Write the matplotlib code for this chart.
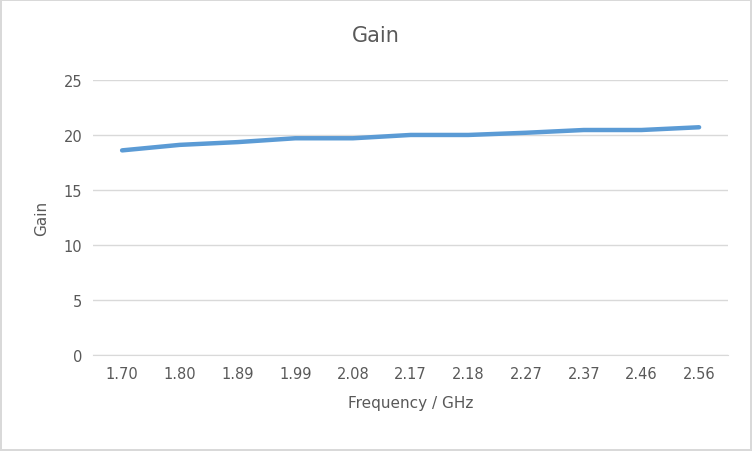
import matplotlib
matplotlib.use("Agg")
import matplotlib.pyplot as plt

categories = ["1.70","1.80","1.89","1.99","2.08","2.17","2.18","2.27","2.37","2.46","2.56"]
gain = [18.6, 19.1, 19.35, 19.7, 19.7, 20.0, 20.0, 20.2, 20.45, 20.45, 20.7]
yticks = [0, 5, 10, 15, 20, 25]

plt.rcParams["font.family"] = "DejaVu Sans"
fig = plt.figure(figsize=(7.52, 4.52), dpi=100)
fig.patch.set_edgecolor("#d9d9d9"); fig.patch.set_linewidth(1.5)
ax = fig.add_axes([0.124, 0.212, 0.844, 0.609])
x = list(range(len(categories)))
ax.plot(x, gain, color="#5b9bd5", lw=3.2, solid_capstyle="round")
ax.set_xlim(-0.5, len(categories) - 0.5)
ax.set_ylim(0, 25)
ax.set_yticks(yticks)
ax.set_xticks(x)
ax.set_xticklabels(categories)
ax.grid(axis="y", color="#d9d9d9", lw=1)
ax.set_axisbelow(True)
for s in ["top", "right", "left"]:
    ax.spines[s].set_visible(False)
ax.spines["bottom"].set_color("#d9d9d9")
ax.tick_params(length=0, colors="#595959", labelsize=10.5, pad=8)
ax.set_xlabel("Frequency / GHz", color="#595959", fontsize=11, labelpad=10)
ax.set_ylabel("Gain", color="#595959", fontsize=11, labelpad=10)
fig.text(0.5, 0.92, "Gain", ha="center", va="center", fontsize=15, color="#595959")
fig.savefig("out.png", dpi=100)
